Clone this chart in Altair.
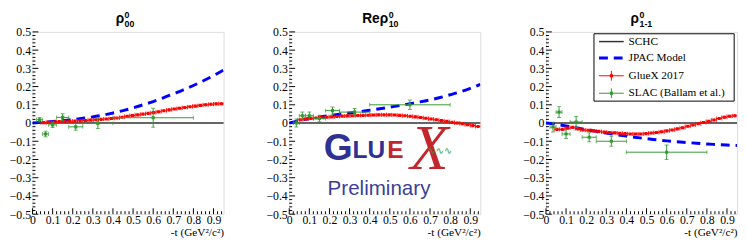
import altair as alt
import pandas as pd

W, H = 195, 186
SX, SY = W / 199.0, H / 194.0
SERIF = "Liberation Serif"
SANS = "Liberation Sans"
RED = "#ff0000"
GREEN = "#339933"
BLUE = "#0000ff"

# ---------------- data ----------------
glx_t = [0.055, 0.081, 0.107, 0.133, 0.159, 0.185, 0.211, 0.237, 0.263, 0.289,
         0.315, 0.341, 0.367, 0.393, 0.419, 0.445, 0.471, 0.497, 0.523, 0.549,
         0.575, 0.601, 0.627, 0.653, 0.679, 0.705, 0.731, 0.757, 0.783, 0.809,
         0.835, 0.861, 0.887, 0.913, 0.939]
glx_hw = 0.013
glx_err = [0.003, 0.003, 0.003, 0.003, 0.003, 0.003, 0.003, 0.003, 0.003, 0.004,
           0.004, 0.004, 0.004, 0.004, 0.004, 0.004, 0.005, 0.005, 0.005, 0.005,
           0.005, 0.005, 0.006, 0.006, 0.006, 0.006, 0.006, 0.007, 0.007, 0.007,
           0.007, 0.008, 0.008, 0.008, 0.008]
rho00_glx = [0.002, 0.004, 0.006, 0.008, 0.009, 0.010, 0.011, 0.012, 0.014, 0.016,
             0.018, 0.020, 0.022, 0.025, 0.028, 0.032, 0.037, 0.041, 0.045, 0.049,
             0.053, 0.057, 0.062, 0.067, 0.072, 0.077, 0.081, 0.085, 0.089, 0.093,
             0.097, 0.100, 0.103, 0.105, 0.106]
re10_glx = [0.018, 0.022, 0.025, 0.028, 0.030, 0.032, 0.034, 0.036, 0.038, 0.039,
            0.040, 0.041, 0.042, 0.043, 0.044, 0.045, 0.045, 0.045, 0.044, 0.042,
            0.040, 0.037, 0.034, 0.030, 0.026, 0.022, 0.018, 0.013, 0.009, 0.004,
            0.000, -0.004, -0.009, -0.014, -0.019]
rho1m1_glx = [-0.035, -0.035, -0.028, -0.024, -0.032, -0.038, -0.040, -0.043, -0.046, -0.050,
              -0.052, -0.054, -0.056, -0.058, -0.060, -0.060, -0.060, -0.058, -0.055, -0.052,
              -0.048, -0.043, -0.038, -0.032, -0.026, -0.018, -0.011, -0.004, 0.003, 0.010,
              0.017, 0.025, 0.032, 0.037, 0.040]

slac_t = [0.035, 0.065, 0.10, 0.15, 0.215, 0.325, 0.60]
slac_hw = [0.015, 0.015, 0.02, 0.03, 0.035, 0.075, 0.20]
rho00_slac = [0.018, -0.060, -0.010, 0.031, -0.021, -0.002, 0.029]
rho00_slac_err = [0.012, 0.015, 0.015, 0.020, 0.018, 0.028, 0.052]
re10_slac = [0.000, 0.040, 0.040, 0.025, 0.068, 0.060, 0.100]
re10_slac_err = [0.022, 0.020, 0.020, 0.018, 0.020, 0.020, 0.026]
rho1m1_slac = [-0.022, 0.060, -0.060, 0.006, -0.078, -0.100, -0.160]
rho1m1_slac_err = [0.027, 0.030, 0.025, 0.030, 0.025, 0.028, 0.040]

jpac_t = [0.0, 0.05, 0.1, 0.15, 0.2, 0.25, 0.3, 0.35, 0.4, 0.45,
          0.5, 0.55, 0.6, 0.65, 0.7, 0.75, 0.8, 0.85, 0.9, 0.95]
rho00_jpac = [0.0, 0.004, 0.008, 0.013, 0.019, 0.026, 0.034, 0.043, 0.055, 0.068,
              0.083, 0.100, 0.118, 0.138, 0.160, 0.182, 0.206, 0.232, 0.260, 0.290]
re10_jpac = [0.0, 0.014, 0.024, 0.033, 0.041, 0.048, 0.055, 0.062, 0.070, 0.078,
             0.087, 0.096, 0.106, 0.116, 0.127, 0.140, 0.155, 0.171, 0.190, 0.212]
rho1m1_jpac = [0.0, -0.007, -0.016, -0.026, -0.036, -0.046, -0.055, -0.064, -0.072, -0.079,
               -0.086, -0.092, -0.098, -0.103, -0.107, -0.111, -0.115, -0.118, -0.121, -0.123]

x_major = [0.0, 0.1, 0.2, 0.3, 0.4, 0.5, 0.6, 0.7, 0.8, 0.9]
y_major = [-0.5, -0.4, -0.3, -0.2, -0.1, 0.0, 0.1, 0.2, 0.3, 0.4, 0.5]
x_minor = [round(0.02 * i, 2) for i in range(1, 48) if i % 5 != 0]
y_minor = [round(-0.5 + 0.02 * i, 2) for i in range(1, 50) if i % 5 != 0]

legend_labels = ["SCHC", "JPAC Model", "GlueX 2017", "SLAC (Ballam et al.)"]
x_title = "-t (GeV²/c²)"

XS = alt.Scale(domain=[0, 0.95], nice=False, zero=False)
YS = alt.Scale(domain=[-0.5, 0.5], nice=False, zero=False)

X_AXIS = alt.Axis(values=x_major, format=".1~f", ticks=False, domain=False, grid=False,
                  labelFlush=False, labelOverlap=False, labelFont=SERIF, labelFontSize=12,
                  labelColor="black", labelPadding=1, title=x_title, titleFont=SERIF,
                  titleFontSize=11.5, titleFontWeight="normal", titleColor="black",
                  titleAnchor="end", titlePadding=1)
Y_AXIS = alt.Axis(values=y_major, format=".1~f", ticks=False, domain=False, grid=False,
                  labelOverlap=False, labelFont=SERIF, labelFontSize=12, labelColor="black",
                  labelPadding=2, title=None)


def X(f):
    return alt.X(f, type="quantitative", scale=XS, axis=X_AXIS)


def Y(f):
    return alt.Y(f, type="quantitative", scale=YS, axis=Y_AXIS)


ONE = pd.DataFrame({"a": [0]})


def txt(s, x, y, size, color="black", font=SANS, weight="normal", align="left",
        style="normal", baseline="alphabetic"):
    return alt.Chart(ONE).mark_text(text=s, font=font, fontSize=size, fontWeight=weight,
                                    fontStyle=style, align=align, baseline=baseline,
                                    color=color).encode(x=alt.value(x), y=alt.value(y))


def panel(main, sup, sub, anchor, glx, sl, sle, jp, legend=False, logo=False):
    gdf = pd.DataFrame({"t": glx_t, "v": glx, "e": glx_err})
    gdf["lo"] = gdf.v - gdf.e
    gdf["hi"] = gdf.v + gdf.e
    gdf["tl"] = gdf.t - glx_hw
    gdf["th"] = gdf.t + glx_hw
    sdf = pd.DataFrame({"t": slac_t, "hw": slac_hw, "v": sl, "e": sle})
    sdf["lo"] = sdf.v - sdf.e
    sdf["hi"] = sdf.v + sdf.e
    sdf["tl"] = sdf.t - sdf.hw
    sdf["th"] = sdf.t + sdf.hw
    jdf = pd.DataFrame({"t": jpac_t, "v": jp})

    layers = []
    # axes carrier
    layers.append(alt.Chart(pd.DataFrame({"t": [0.0], "v": [0.0]})).mark_point(opacity=0)
                  .encode(x=X("t"), y=Y("v")))
    # inward ticks
    layers.append(alt.Chart(pd.DataFrame({"t": x_major})).mark_rule(color="black", strokeWidth=1)
                  .encode(x=X("t"), y=alt.value(H), y2=alt.value(H - 6)))
    layers.append(alt.Chart(pd.DataFrame({"t": x_minor})).mark_rule(color="black", strokeWidth=1)
                  .encode(x=X("t"), y=alt.value(H), y2=alt.value(H - 3)))
    layers.append(alt.Chart(pd.DataFrame({"v": y_major})).mark_rule(color="black", strokeWidth=1)
                  .encode(y=Y("v"), x=alt.value(0), x2=alt.value(6)))
    layers.append(alt.Chart(pd.DataFrame({"v": y_minor})).mark_rule(color="black", strokeWidth=1)
                  .encode(y=Y("v"), x=alt.value(0), x2=alt.value(3)))

    if logo:
        blue_logo = "#2e3192"
        red_logo = "#c1272d"
        layers.append(txt("G", 36 * SX, 136 * SY, 38, blue_logo, SANS, "bold"))
        layers.append(txt("LU", 66 * SX, 134 * SY, 25, blue_logo, SANS, "bold"))
        layers.append(txt("E", 102 * SX, 134 * SY, 25, red_logo, SANS, "bold"))
        layers.append(txt("X", 146 * SX, 146 * SY, 64, red_logo, SERIF, "normal", "center", "italic"))
        layers.append(txt("∿∿∿", 144 * SX, 130 * SY, 10, "#3a9a3a", "DejaVu Sans"))
        layers.append(txt("Preliminary", 93.5 * SX, 174 * SY, 21, "#3b3f98", SANS, "normal", "center"))

    # SCHC
    layers.append(alt.Chart(pd.DataFrame({"v": [0.0]})).mark_rule(color="#333333", strokeWidth=1.5)
                  .encode(y=Y("v")))
    # JPAC
    layers.append(alt.Chart(jdf).mark_line(color=BLUE, strokeWidth=3, strokeDash=[9, 6],
                                           interpolate="monotone", clip=True)
                  .encode(x=X("t"), y=Y("v")))
    # GlueX then SLAC
    for df, col in ((gdf, RED), (sdf, GREEN)):
        layers.append(alt.Chart(df).mark_rule(color=col, strokeWidth=1, clip=True)
                      .encode(x=X("tl"), x2="th", y=Y("v")))
        layers.append(alt.Chart(df).mark_rule(color=col, strokeWidth=1, clip=True)
                      .encode(x=X("t"), y=Y("lo"), y2="hi"))
        layers.append(alt.Chart(df).mark_tick(color=col, orient="vertical", size=4, thickness=1,
                                              clip=True)
                      .encode(x=X("tl"), y=Y("v")))
        layers.append(alt.Chart(df).mark_tick(color=col, orient="vertical", size=4, thickness=1,
                                              clip=True)
                      .encode(x=X("th"), y=Y("v")))
        if col == GREEN:
            layers.append(alt.Chart(df).mark_tick(color=col, orient="horizontal", size=4,
                                                  thickness=1, clip=True)
                          .encode(x=X("t"), y=Y("lo")))
            layers.append(alt.Chart(df).mark_tick(color=col, orient="horizontal", size=4,
                                                  thickness=1, clip=True)
                          .encode(x=X("t"), y=Y("hi")))
        layers.append(alt.Chart(df).mark_square(color=col, size=10, opacity=1, clip=True)
                      .encode(x=X("t"), y=Y("v")))

    # title
    layers.append(txt(main, anchor, -9.5, 14, "black", SANS, "bold", "right"))
    layers.append(txt(sup, anchor + 0.5, -14.5, 9, "black", SANS, "bold", "left"))
    layers.append(txt(sub, anchor + 0.5, -4.5, 9, "black", SANS, "bold", "left"))

    if legend:
        bx0, bx1, by0, by1 = 50 * SX, 196 * SX, 2 * SY, 73.7 * SY
        layers.append(alt.Chart(ONE).mark_rect(fill="white", stroke="black", strokeWidth=1)
                      .encode(x=alt.value(bx0), x2=alt.value(bx1), y=alt.value(by0), y2=alt.value(by1)))
        rows = [10.3 * SY, 27.7 * SY, 46.7 * SY, 65.3 * SY]
        sx0, sx1, tx = 55.3 * SX, 81 * SX, 86 * SX
        cols = ["#333333", BLUE, RED, GREEN]
        for i, (lab, c) in enumerate(zip(legend_labels, cols)):
            ry = rows[i]
            if i == 1:
                layers.append(alt.Chart(ONE).mark_rule(color=c, strokeWidth=3, strokeDash=[9, 6])
                              .encode(x=alt.value(sx0), x2=alt.value(sx1), y=alt.value(ry)))
            else:
                layers.append(alt.Chart(ONE).mark_rule(color=c, strokeWidth=1.5 if i == 0 else 1)
                              .encode(x=alt.value(sx0), x2=alt.value(sx1), y=alt.value(ry)))
            if i >= 2:
                mx = (sx0 + sx1) / 2
                layers.append(alt.Chart(ONE).mark_rule(color=c, strokeWidth=1)
                              .encode(x=alt.value(mx), y=alt.value(ry - 5), y2=alt.value(ry + 5)))
                layers.append(alt.Chart(ONE).mark_square(color=c, size=10, opacity=1)
                              .encode(x=alt.value(mx), y=alt.value(ry)))
            layers.append(txt(lab, tx, ry, 11.5, "black", SERIF, "normal", "left", baseline="middle"))

    return alt.layer(*layers).properties(width=W, height=H)


p1 = panel("ρ", "0", "00", 93.5, rho00_glx, rho00_slac, rho00_slac_err, rho00_jpac)
p2 = panel("Reρ", "0", "10", 101.0, re10_glx, re10_slac, re10_slac_err, re10_jpac, logo=True)
p3 = panel("ρ", "0", "1-1", 95.0, rho1m1_glx, rho1m1_slac, rho1m1_slac_err, rho1m1_jpac, legend=True)

chart = alt.hconcat(p1, p2, p3, spacing=40).configure_view(stroke="black", strokeWidth=1).configure(
    background="white", padding=0)

chart.save("out.html", embed_options={"renderer": "svg", "actions": False})
